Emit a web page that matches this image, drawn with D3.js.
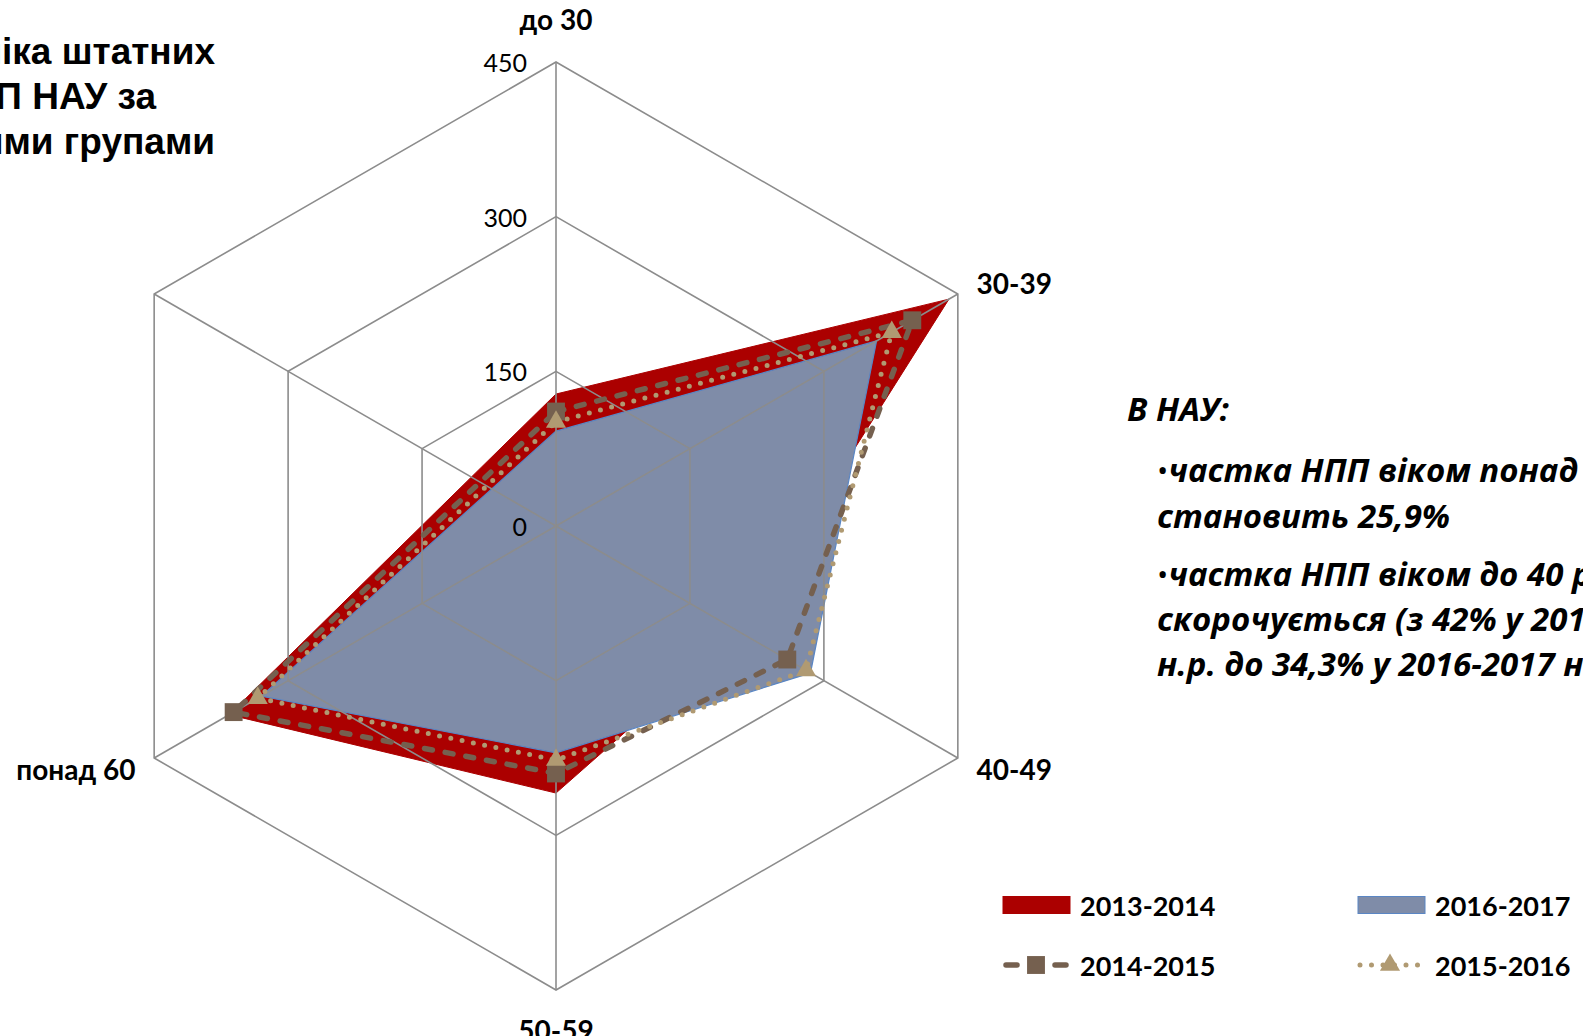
<!DOCTYPE html>
<html>
<head>
<meta charset="utf-8">
<script src="https://cdn.jsdelivr.net/npm/d3@7/dist/d3.min.js"></script>
<style>
body { margin: 0; background: #fff; overflow: hidden; }
svg { display: block; }
</style>
</head>
<body>
<div id="chart"></div>
<script>

// categories (6th spoke has no label and no value)
var categories = ["до 30", "30-39", "40-49", "50-59", "понад 60", ""];
var tick_values = [0, 150, 300, 450];

// number of staff per age group
var years = ["2013-2014", "2014-2015", "2015-2016", "2016-2017"];
var v_2013 = [128, 440, 205, 259, 366, null];
var v_2014 = [111, 399, 259, 240, 361, null];
var v_2015 = [101, 376, 280, 227, 334, null];
var v_2016 = [92, 359, 285, 220, 330, null];

var title_lines = ["Динаміка штатних", "НПП НАУ за", "віковими групами"];
var note_head = "В НАУ:";
var note_lines = [
	["•", "частка НПП віком понад 60 років"],
	["", "становить 25,9%"],
	["•", "частка НПП віком до 40 років"],
	["", "скорочується (з 42% у 2013-2014"],
	["", "н.р. до 34,3% у 2016-2017 н.р.)"]
];

var W = 1583, H = 1036;
var cx = 556, cy = 526, R = 464;
var red = "#ab0000", blue_fill = "#7f8ca8", blue_line = "#5a86c4";
var brown = "#75604f", tan = "#b09a72", grid = "#8c8c8c";
var calibri = "Lato, 'Open Sans', sans-serif";

var svg = d3.select("#chart").append("svg")
	.attr("width", W).attr("height", H);

var r = d3.scaleLinear().domain([0, 450]).range([0, R]);
var a = d3.scaleLinear().domain([0, categories.length]).range([0, 2 * Math.PI]);

function px(i, v){ return cx + r(v) * Math.sin(a(i)); }
function py(i, v){ return cy - r(v) * Math.cos(a(i)); }

function pts(vals){
	// skip empty categories, the polygon just joins the neighbours
	var out = [];
	vals.forEach(function(v, i){ if (v !== null) out.push([px(i, v), py(i, v)]); });
	return out;
}

var poly_line = d3.line().curve(d3.curveLinearClosed);

// areas first
svg.append("path").attr("d", poly_line(pts(v_2013)))
	.attr("fill", red).attr("stroke", red).attr("stroke-width", 1);
svg.append("path").attr("d", poly_line(pts(v_2016)))
	.attr("fill", blue_fill).attr("stroke", blue_line).attr("stroke-width", 1.2);

// grid on top of the filled areas
var g_grid = svg.append("g").attr("stroke", grid).attr("stroke-width", 1.6).attr("fill", "none");
tick_values.filter(function(t){ return t > 0; }).forEach(function(t){
	g_grid.append("path").attr("d", poly_line(categories.map(function(c, i){ return [px(i, t), py(i, t)]; })));
});
categories.forEach(function(c, i){
	g_grid.append("line")
		.attr("x1", px(i, 0)).attr("y1", py(i, 0))
		.attr("x2", px(i, 450)).attr("y2", py(i, 450));
});

// tick labels
svg.append("g").selectAll("text").data(tick_values).enter().append("text")
	.attr("x", cx - 29).attr("y", function(d){ return py(0, d); })
	.attr("text-anchor", "end").attr("dominant-baseline", "central")
	.attr("font-family", calibri).attr("font-size", 25).attr("fill", "#000")
	.text(function(d){ return d; });

// dashed line with squares
svg.append("path").attr("d", poly_line(pts(v_2014)))
	.attr("fill", "none").attr("stroke", brown).attr("stroke-width", 5.5)
	.attr("stroke-dasharray", "8 13").attr("stroke-linecap", "round");
// dotted line with triangles
svg.append("path").attr("d", poly_line(pts(v_2015)))
	.attr("fill", "none").attr("stroke", tan).attr("stroke-width", 5)
	.attr("stroke-dasharray", "0 11.5").attr("stroke-linecap", "round");

var square = d3.symbol().type(d3.symbolSquare).size(320);
var triangle = d3.symbol().type(d3.symbolTriangle).size(175);

svg.append("g").selectAll("path").data(pts(v_2014)).enter().append("path")
	.attr("d", square).attr("transform", function(d){ return "translate(" + d + ")"; })
	.attr("fill", brown);
svg.append("g").selectAll("path").data(pts(v_2015)).enter().append("path")
	.attr("d", triangle).attr("transform", function(d){ return "translate(" + d + ")"; })
	.attr("fill", tan);

// category labels
categories.forEach(function(c, i){
	var x = px(i, 450 + 21), y = py(i, 450 + 21);
	var anchor = "middle";
	if (x > cx + 5) anchor = "start";
	if (x < cx - 5) anchor = "end";
	if (anchor == "middle") y += (y < cy ? -21 : 18);
	svg.append("text").attr("x", x).attr("y", y)
		.attr("text-anchor", anchor).attr("dominant-baseline", "central")
		.attr("font-family", calibri).attr("font-weight", "bold").attr("font-size", 28)
		.text(c);
});

// title, partly outside the frame on the left
var title_x = [215, 156, 215];
title_lines.forEach(function(t, i){
	svg.append("text").attr("x", title_x[i]).attr("y", 51 + i * 45)
		.attr("text-anchor", "end").attr("dominant-baseline", "central")
		.attr("font-family", "'Liberation Sans', Arial, sans-serif")
		.attr("font-weight", "bold").attr("font-size", 37)
		.text(t);
});

// note on the right
var note_font = "'Open Sans', Lato, sans-serif";
svg.append("text").attr("x", 1127).attr("y", 408)
	.attr("dominant-baseline", "central")
	.attr("font-family", note_font).attr("font-weight", "bold").attr("font-style", "italic")
	.attr("font-size", 33).text(note_head);
var note_y = [469, 515, 573, 618, 663];
note_lines.forEach(function(l, i){
	var t = svg.append("text").attr("x", 1157).attr("y", note_y[i])
		.attr("dominant-baseline", "central")
		.attr("font-family", note_font).attr("font-weight", "bold")
		.attr("font-size", 33);
	if (l[0]) t.append("tspan").attr("font-weight", "normal").attr("font-size", 30).text(l[0]);
	t.append("tspan").attr("font-style", "italic").text(l[1]);
});

// legend
var legend = [
	{name: years[0], x: 1003, y: 905, kind: "area", fill: red, stroke: red},
	{name: years[3], x: 1358, y: 905, kind: "area", fill: blue_fill, stroke: blue_line},
	{name: years[1], x: 1003, y: 965, kind: "dash"},
	{name: years[2], x: 1358, y: 965, kind: "dot"}
];
legend.forEach(function(d){
	var g = svg.append("g").attr("transform", "translate(" + d.x + "," + d.y + ")");
	if (d.kind == "area"){
		g.append("rect").attr("x", 0).attr("y", -8.5).attr("width", 67).attr("height", 17)
			.attr("fill", d.fill).attr("stroke", d.stroke).attr("stroke-width", 1);
	} else if (d.kind == "dash"){
		g.append("line").attr("x1", 3).attr("x2", 63).attr("y1", 0).attr("y2", 0)
			.attr("stroke", brown).attr("stroke-width", 5.5).attr("stroke-linecap", "round")
			.attr("stroke-dasharray", "11 38");
		g.append("path").attr("d", square).attr("transform", "translate(33,0)").attr("fill", brown);
	} else {
		g.append("line").attr("x1", 2).attr("x2", 62).attr("y1", 0).attr("y2", 0)
			.attr("stroke", tan).attr("stroke-width", 5).attr("stroke-linecap", "round")
			.attr("stroke-dasharray", "0 11.5");
		g.append("path").attr("d", triangle).attr("transform", "translate(32,0)").attr("fill", tan);
	}
	g.append("text").attr("x", 77).attr("y", 0).attr("dominant-baseline", "central")
		.attr("font-family", calibri).attr("font-weight", "bold").attr("font-size", 27)
		.text(d.name);
});

</script>
</body>
</html>
